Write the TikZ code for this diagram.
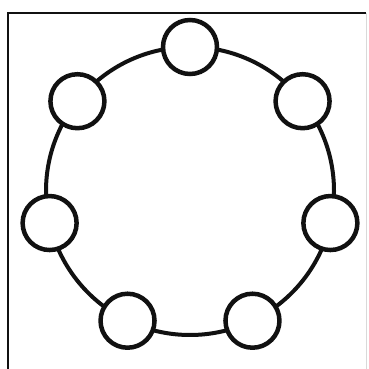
\documentclass[tikz,border=0pt]{standalone}
\usepackage{tikz}
\usetikzlibrary{positioning,calc}
\definecolor{RingBlack}{HTML}{111111}

\begin{document}
\begin{tikzpicture}[x=1pt, y=1pt]
\useasboundingbox (0,0) rectangle (368,369);

% Frame (left, top, faint right edge)
\draw[line width=2pt, RingBlack] (8,0) -- (8,356) -- (366,356);
\draw[line width=0.6pt, black!15] (366,356) -- (366,0);

% Big ring
\coordinate (ringc) at (190,178);
\draw[line width=4pt, RingBlack] (ringc) circle (144);

% Seven seats on the ring
\foreach \k in {0,...,6} {
  \node[circle, draw=RingBlack, fill=white, line width=4.5pt,
        minimum size=54, inner sep=0pt] (seat\k)
        at ($(ringc)+(90+\k*360/7:144)$) {};
}
\end{tikzpicture}
\end{document}
